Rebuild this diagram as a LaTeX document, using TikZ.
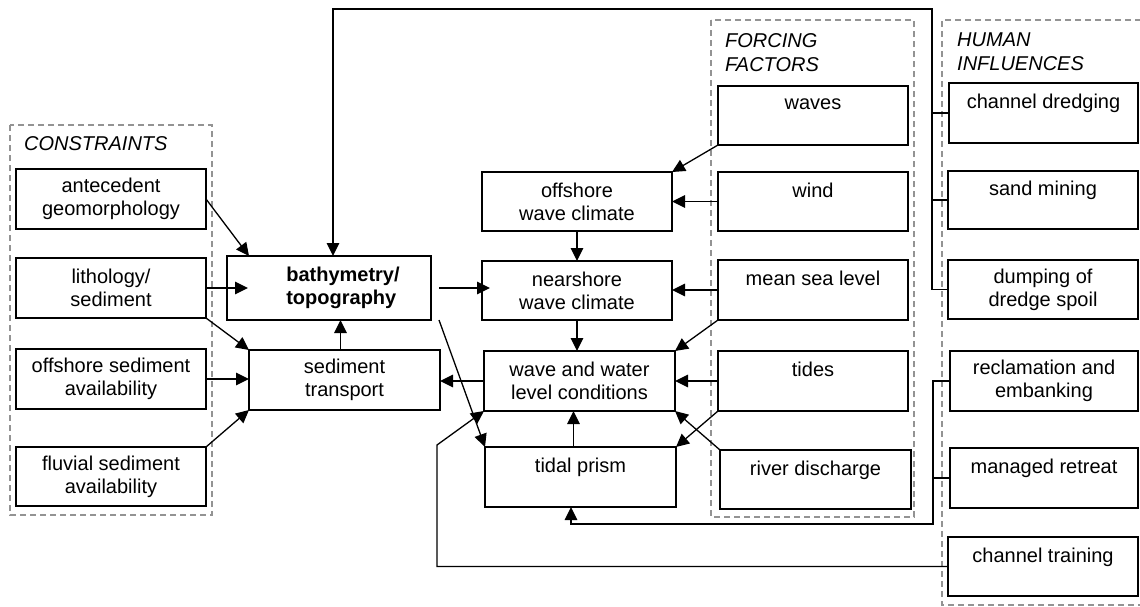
\documentclass[tikz,border=0pt]{standalone}
\usepackage{fontspec}
\setmainfont{Liberation Sans}
\usetikzlibrary{arrows.meta}
\begin{document}
\begin{tikzpicture}[x=1pt,y=-1pt,
  box/.style={draw, line width=1.3pt, inner sep=0pt, outer sep=0pt, align=center, font=\fontsize{20}{23}\selectfont},
  arr/.style={line width=1.3pt, -{Triangle[length=13pt,width=12.5pt]}},
  ln/.style={line width=1.3pt},
  grp/.style={draw=gray!85, line width=1.2pt, dash pattern=on 6pt off 4pt},
  ttl/.style={font=\fontsize{20}{24}\selectfont\itshape, anchor=north west, inner sep=0pt, align=left}
]
\useasboundingbox (0,0) rectangle (1140,606);

% groups
\draw[grp] (10,125) rectangle (212,515);
\draw[grp] (711,20) rectangle (914,517);
\draw[grp] (1141,20) -- (942,20) -- (942,605) -- (1141,605);
\node[ttl] (tcons) at (24,136) {CONSTRAINTS};
\node[ttl] (tforc) at (725,33) {FORCING\\FACTORS};
\node[ttl] (thum) at (957,33) {HUMAN\\INFLUENCES};

% constraints
\node[box, minimum width=190pt, minimum height=60pt] (antec) at (111,199) {antecedent\\geomorphology};
\node[box, minimum width=190pt, minimum height=60pt] (litho) at (111,288) {lithology/\\sediment};
\node[box, minimum width=190pt, minimum height=60pt] (offsed) at (111,379) {offshore sediment\\availability};
\node[box, minimum width=190pt, minimum height=59pt] (fluv) at (111,476.5) {fluvial sediment\\availability};

% centre
\node[box, minimum width=204pt, minimum height=64pt] (bath) at (329,288) {};
\node[box, draw=none, font=\fontsize{20}{23}\selectfont\bfseries, align=left] (bathtxt) at (343,288) {bathymetry/\\topography};
\node[box, minimum width=191pt, minimum height=60pt] (sedtr) at (344.5,380) {sediment\\transport};

\node[box, minimum width=190pt, minimum height=59pt] (offw) at (577,201.5) {offshore\\wave climate};
\node[box, minimum width=190pt, minimum height=59pt] (nearw) at (577,290.5) {nearshore\\wave climate};
\node[box, minimum width=191pt, minimum height=60pt] (wwl) at (579.5,381) {wave and water\\level conditions};
\node[box, minimum width=191pt, minimum height=60pt] (tidal) at (580.5,477) {tidal prism\\\mbox{}};

% forcing
\node[box, minimum width=190pt, minimum height=59pt] (waves) at (813,115.5) {waves\\\mbox{}};
\node[box, minimum width=190pt, minimum height=59pt] (wind) at (813,201.5) {wind\\\mbox{}};
\node[box, minimum width=190pt, minimum height=60pt] (msl) at (813,290) {mean sea level\\\mbox{}};
\node[box, minimum width=190pt, minimum height=60pt] (tides) at (813,381) {tides\\\mbox{}};
\node[box, minimum width=191pt, minimum height=59pt] (river) at (815.5,479.5) {river discharge\\\mbox{}};

% human
\node[box, minimum width=189pt, minimum height=60pt] (dredg) at (1043.5,113) {channel dredging\\\mbox{}};
\node[box, minimum width=190pt, minimum height=58pt] (sand) at (1043,200) {sand mining\\\mbox{}};
\node[box, minimum width=190pt, minimum height=59pt] (dump) at (1043,289.5) {dumping of\\dredge spoil};
\node[box, minimum width=188pt, minimum height=60pt] (recl) at (1044,381) {reclamation and\\embanking};
\node[box, minimum width=188pt, minimum height=60pt] (manag) at (1044,478) {managed retreat\\\mbox{}};
\node[box, minimum width=190pt, minimum height=59pt] (train) at (1043,566.5) {channel training\\\mbox{}};

% connectors
\draw[arr] (antec.east) -- ([xshift=22pt]bath.north west);
\draw[arr] (litho.east) -- ([xshift=21pt]bath.west);
\draw[arr] (litho.south east) -- (sedtr.north west);
\draw[arr] (offsed.east) -- (offsed.east -| sedtr.west);
\draw[arr] (fluv.north east) -- (sedtr.south west);
\draw[arr] ([xshift=-4pt]sedtr.north) -- ([xshift=-4pt]sedtr.north |- bath.south);

\coordinate (hx) at (932,9);
\draw[ln] (dredg.west) -- (dredg.west -| hx);
\draw[ln] (sand.west) -- (sand.west -| hx);
\draw[arr] (dump.west) -- (dump.west -| hx) -- (hx) -| ([xshift=4pt]bath.north);

\draw[arr] ([xshift=8pt]bath.east) -- ([xshift=8pt]bath.east -| nearw.west);
\draw[arr] ([xshift=8pt]bath.south east) -- (tidal.north west);
\draw[arr] (waves.south west) -- (offw.north east);
\draw[arr] (wind.west) -- (offw.east);
\draw[arr] (offw.south) -- (nearw.north);
\draw[arr] (msl.west) -- (msl.west -| nearw.east);
\draw[arr] (nearw.south) -- (nearw.south |- wwl.north);
\draw[arr] (msl.south west) -- (wwl.north east);
\draw[arr] (tides.west) -- (wwl.east);
\draw[arr] (wwl.west) -- (wwl.west -| sedtr.east);
\draw[arr] ([xshift=-7pt]tidal.north) -- ([xshift=-7pt]tidal.north |- wwl.south);
\draw[arr] (tides.south west) -- (tidal.north east);
\draw[arr] (river.north west) -- (wwl.south east);

\coordinate (rx) at (933,524);
\draw[ln] (manag.west) -- (manag.west -| rx);
\draw[arr] (recl.west) -| (rx) -| ([xshift=-9.5pt]tidal.south);

\coordinate (tx) at (437,445);
\draw[arr] (train.west) -- (train.west -| tx) -- (tx) -- (wwl.south west);
\end{tikzpicture}
\end{document}
